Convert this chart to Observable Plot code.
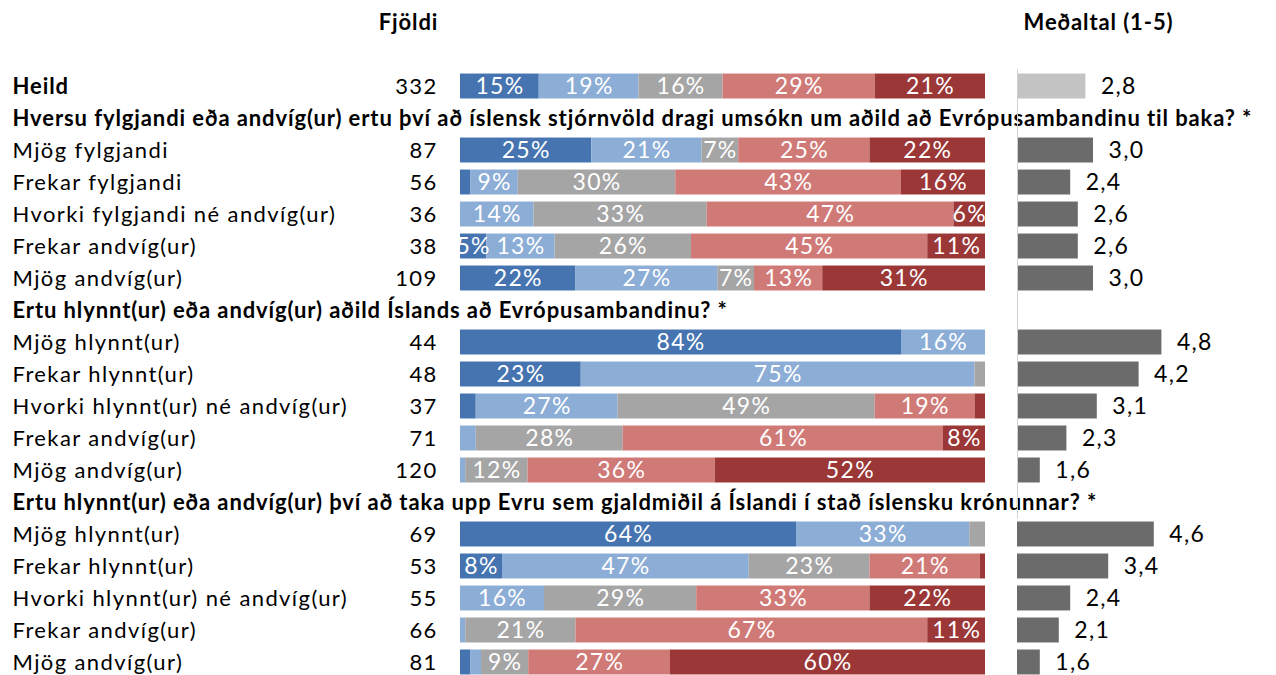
<!DOCTYPE html>
<html><head><meta charset="utf-8">
<script src="https://cdn.jsdelivr.net/npm/d3@7"></script>
<script src="https://cdn.jsdelivr.net/npm/@observablehq/plot@0.6"></script>
<style>
html,body{margin:0;background:#fff;overflow:hidden;}
#wrap{position:relative;width:1276px;height:675px;}
#wrap svg{position:absolute;left:0;top:0;overflow:visible;}
#wrap svg text{letter-spacing:0.9px;}
#wrap svg g.reg text{letter-spacing:1.4px;}
#wrap svg g.num text{letter-spacing:1.3px;}
</style></head><body><div id="wrap"></div>
<script>
const rowLabels = ["Heild",
 "Hversu fylgjandi eða andvíg(ur) ertu því að íslensk stjórnvöld dragi umsókn um aðild að Evrópusambandinu til baka? *",
 "Mjög fylgjandi","Frekar fylgjandi","Hvorki fylgjandi né andvíg(ur)","Frekar andvíg(ur)","Mjög andvíg(ur)",
 "Ertu hlynnt(ur) eða andvíg(ur) aðild Íslands að Evrópusambandinu? *",
 "Mjög hlynnt(ur)","Frekar hlynnt(ur)","Hvorki hlynnt(ur) né andvíg(ur)","Frekar andvíg(ur)","Mjög andvíg(ur)",
 "Ertu hlynnt(ur) eða andvíg(ur) því að taka upp Evru sem gjaldmiðil á Íslandi í stað íslensku krónunnar? *",
 "Mjög hlynnt(ur)","Frekar hlynnt(ur)","Hvorki hlynnt(ur) né andvíg(ur)","Frekar andvíg(ur)","Mjög andvíg(ur)"];
const rowTypes = ["total","header","item","item","item","item","item","header","item","item","item","item","item","header","item","item","item","item","item"];
const counts = [332,null,87,56,36,38,109,null,44,48,37,71,120,null,69,53,55,66,81];
const seriesNames = ["Mjög hlynnt","Frekar hlynnt","Hvorki né","Frekar andvíg","Mjög andvíg"];
const seriesColors = ["#4574B0","#8CADD6","#A5A5A5","#D07A77","#9B3737"];
const s1 = [15,null,25,2,0,5,22,null,84,23,3,0,0,null,64,8,0,0,2];
const s2 = [19,null,21,9,14,13,27,null,16,75,27,3,1,null,33,47,16,1,2];
const s3 = [16,null,7,30,33,26,7,null,0,2,49,28,12,null,3,23,29,21,9];
const s4 = [29,null,25,43,47,45,13,null,0,0,19,61,36,null,0,21,33,67,27];
const s5 = [21,null,22,16,6,11,31,null,0,0,2,8,52,null,0,1,22,11,60];
const means = [2.8,null,3.0,2.4,2.6,2.6,3.0,null,4.8,4.2,3.1,2.3,1.6,null,4.6,3.4,2.4,2.1,1.6];

const keys = rowLabels.map((_, i) => i);
const rows = keys.map(i => ({key: i, label: rowLabels[i], type: rowTypes[i], n: counts[i], mean: means[i]}));
const seriesVals = [s1, s2, s3, s4, s5];
const long = [];
keys.forEach(i => {
  if (rowTypes[i] === "header") return;
  seriesVals.forEach((arr, j) => long.push({key: i, series: seriesNames[j], value: arr[i]}));
});

const FONT = "Lato, 'Noto Sans', sans-serif";
const FS = 22;
const H = 682, MT = 66.5, MB = 0.5;
const yScale = {domain: keys, padding: 0.22, round: false, axis: null};

const main = Plot.plot({
  width: 1276, height: H,
  marginLeft: 460, marginRight: 291, marginTop: MT, marginBottom: MB,
  style: {fontFamily: FONT, fontSize: FS + "px", background: "transparent"},
  x: {domain: [0, 1], axis: null},
  y: yScale,
  color: {domain: seriesNames, range: seriesColors},
  marks: [
    Plot.barX(long, Plot.stackX({x: "value", y: "key", fill: "series", order: null, offset: "normalize"})),
    Plot.text(long, Plot.stackX({x: "value", y: "key", z: "series", order: null, offset: "normalize",
      text: d => d.value >= 5 ? d.value + "%" : "", fill: "white", fontSize: 23, className: "num"})),
    Plot.text(rows.filter(d => d.type === "item"), {y: "key", frameAnchor: "left", dx: -448, textAnchor: "start", text: "label",
      fill: "black", fontSize: FS, className: "reg"}),
    Plot.text(rows.filter(d => d.type !== "item"), {y: "key", frameAnchor: "left", dx: -448, textAnchor: "start", text: "label",
      fontWeight: "bold", fill: "black", fontSize: FS}),
    Plot.text(rows.filter(d => d.n != null), {y: "key", frameAnchor: "left", dx: -23, textAnchor: "end",
      text: d => String(d.n), fill: "black", fontSize: FS, className: "num"}),
    Plot.text(["Fjöldi"], {frameAnchor: "top-left", dx: -52, dy: -MT + 22, lineAnchor: "middle", textAnchor: "middle",
      text: d => d, fontWeight: "bold", fontSize: FS, fill: "black"})
  ]
});

const meanRows = rows.filter(d => d.mean != null);
const over = Plot.plot({
  width: 1276, height: H,
  marginLeft: 1017, marginRight: 107, marginTop: MT, marginBottom: MB,
  style: {fontFamily: FONT, fontSize: FS + "px", background: "transparent"},
  x: {domain: [1, 5], axis: null},
  y: yScale,
  marks: [
    Plot.barX(meanRows, {x1: 1, x2: "mean", y: "key", fill: d => d.type === "total" ? "#C3C3C3" : "#6B6B6B"}),
    Plot.ruleX(rows.filter(d => d.type === "header"), {x: 1, y: "key", stroke: "#d0d0d0", strokeWidth: 1, insetTop: -4, insetBottom: -4}),
    Plot.text(meanRows, {x: "mean", y: "key", dx: 15, textAnchor: "start",
      text: d => d.mean.toFixed(1).replace(".", ","), fill: "black", fontSize: 23, className: "num"}),
    Plot.text(["Meðaltal (1-5)"], {frameAnchor: "top-left", dx: 81, dy: -MT + 22, lineAnchor: "middle", textAnchor: "middle",
      text: d => d, fontWeight: "bold", fontSize: FS, fill: "black"})
  ]
});
const wrap = document.getElementById("wrap");
wrap.appendChild(main);
wrap.appendChild(over);
</script></body></html>
